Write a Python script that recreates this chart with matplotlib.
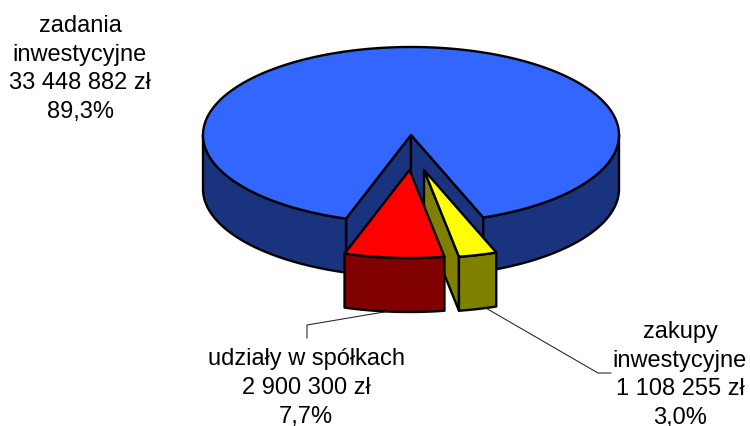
import numpy as np
import matplotlib
matplotlib.use('Agg')
import matplotlib.pyplot as plt
from matplotlib.patches import Polygon

plt.rcParams['font.family'] = ['Liberation Sans', 'DejaVu Sans']

# data
names = ['zadania\ninwestycyjne', 'udziały w spółkach', 'zakupy\ninwestycyjne']
values = [33448882, 2900300, 1108255]
top_colors = ['#3366FF', '#FF0000', '#FFFF00']
side_colors = ['#1A337F', '#800000', '#808000']

# pie geometry in pixels
rx = 208
ry = 88
depth = 54
cx = 411
cy = 135
offsets = [(0, 0), (-1.5, 35), (13, 35)]
start = -18.2  # angle where the red slice begins, measured from straight down

total = sum(values)
sweeps = [v / total * 360 for v in values]


def arc(a0, a1, dx=0, dy=0, n=80):
    a = np.radians(np.linspace(a0, a1, n))
    return np.column_stack((cx + dx + rx * np.sin(a), cy + dy + ry * np.cos(a)))


def poly(ax, pts, color):
    ax.add_patch(Polygon(pts, closed=True, facecolor=color, edgecolor='black',
                         linewidth=1.7, joinstyle='round'))


def wall(ax, p, q, color):
    # flat cut face between two top points
    pts = np.array([p, q, (q[0], q[1] + depth), (p[0], p[1] + depth)])
    poly(ax, pts, color)


def rim(ax, a0, a1, dx, dy, color):
    top = arc(a0, a1, dx, dy)
    bottom = top[::-1] + (0, depth)
    poly(ax, np.vstack((top, bottom)), color)


fig = plt.figure(figsize=(7.5, 4.26), dpi=100)
ax = fig.add_axes([0, 0, 1, 1])
ax.set_xlim(0, 750)
ax.set_ylim(426, 0)
ax.axis('off')

red_a0 = start
red_a1 = red_a0 + sweeps[1]
yel_a0 = red_a1
yel_a1 = yel_a0 + sweeps[2]

# big slice: inner walls, outer rim, top
centre = (cx, cy)
wall(ax, centre, arc(red_a0, red_a0, n=1)[0], side_colors[0])
wall(ax, centre, arc(yel_a1, yel_a1, n=1)[0], side_colors[0])
rim(ax, red_a0, -90, 0, 0, side_colors[0])
rim(ax, yel_a1, 90, 0, 0, side_colors[0])
poly(ax, np.vstack(([centre], arc(yel_a1, 360 + red_a0, n=300))), top_colors[0])

# yellow slice
dx, dy = offsets[2]
apex = (cx + dx, cy + dy)
wall(ax, apex, arc(yel_a0, yel_a0, dx, dy, n=1)[0], side_colors[2])
rim(ax, yel_a0, yel_a1, dx, dy, side_colors[2])
poly(ax, np.vstack(([apex], arc(yel_a0, yel_a1, dx, dy))), top_colors[2])

# red slice
dx, dy = offsets[1]
apex = (cx + dx, cy + dy)
rim(ax, red_a0, red_a1, dx, dy, side_colors[1])
poly(ax, np.vstack(([apex], arc(red_a0, red_a1, dx, dy))), top_colors[1])

# leader lines
ax.plot([307, 307, 390], [338, 325, 311], color='#222222', lw=0.75)
ax.plot([484, 598, 611], [307, 373, 373], color='#222222', lw=0.75)

# labels
label_pos = [(80, 69), (306, 388), (680, 375)]
for name, v, pos in zip(names, values, label_pos):
    amount = f'{v:,}'.replace(',', ' ') + ' zł'
    pct = f'{v / total * 100:.1f}'.replace('.', ',') + '%'
    ax.text(pos[0], pos[1], name + '\n' + amount + '\n' + pct, ha='center', va='center',
            fontsize=17, linespacing=1.4, color='black', clip_on=False)

plt.savefig('out.png', dpi=100)
